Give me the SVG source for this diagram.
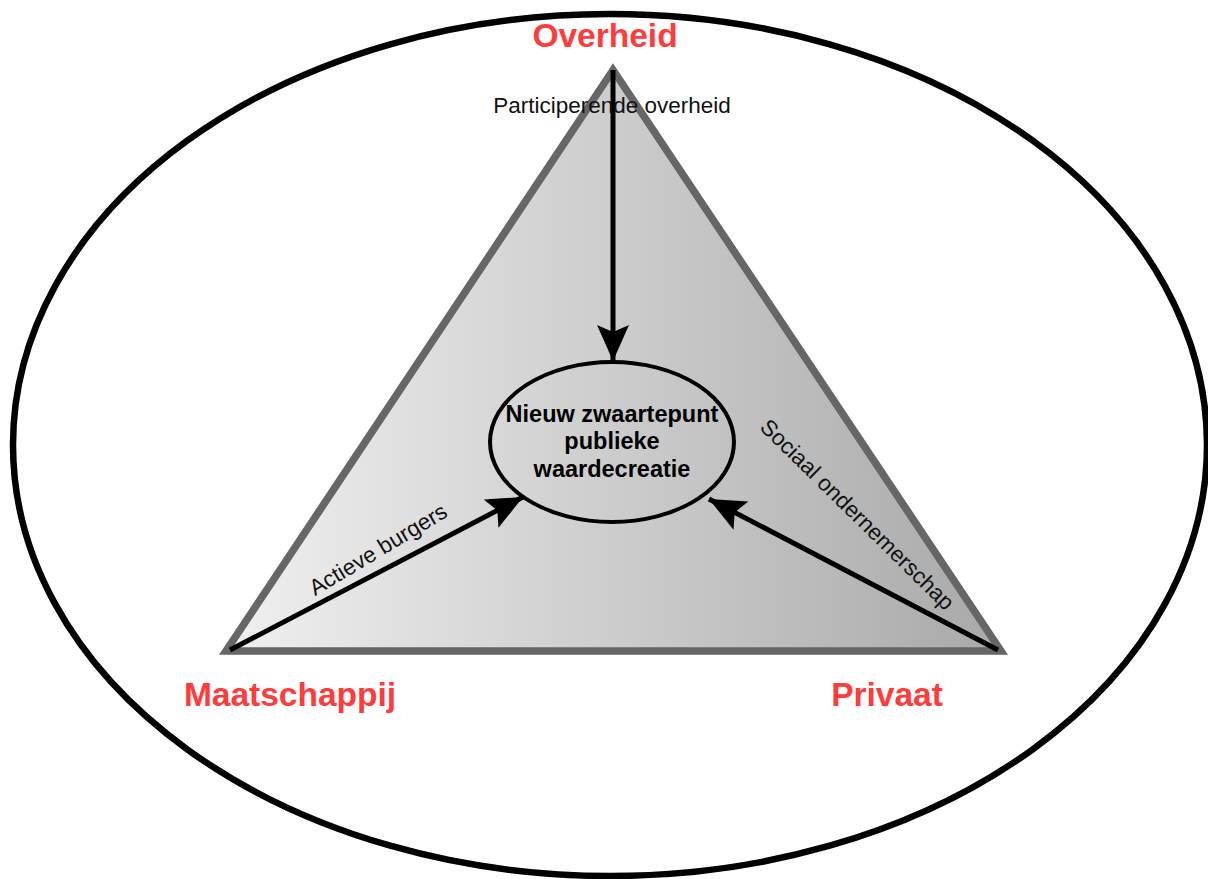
<svg xmlns="http://www.w3.org/2000/svg" width="1208" height="879" viewBox="0 0 1208 879">
<style>
.lbl{font-family:"Liberation Sans",Arial,sans-serif;font-weight:bold;fill:#ff3b3b;font-size:33.5px;text-anchor:middle}
.small{font-family:"Liberation Sans",Arial,sans-serif;fill:#111;font-size:22.5px;text-anchor:middle}
.center{font-family:"Liberation Sans",Arial,sans-serif;font-weight:bold;fill:#000;font-size:23.5px;text-anchor:middle}
.conn{stroke:#000;stroke-width:5;fill:none;marker-end:url(#ah)}
</style>
<defs>
<linearGradient id="g" x1="0" y1="0" x2="1" y2="0">
<stop offset="0" stop-color="#f0f0f0"/>
<stop offset="1" stop-color="#a9a9a9"/>
</linearGradient>
<marker id="ah" markerUnits="userSpaceOnUse" markerWidth="38" markerHeight="34" refX="36" refY="16" orient="auto">
<path d="M0,0 L36,16 L0,32 L7,16 Z" fill="#000"/>
</marker>
</defs>
<rect width="1208" height="879" fill="#fff"/>
<g id="outer">
<ellipse cx="610" cy="445" rx="597" ry="431" fill="none" stroke="#000" stroke-width="6.5"/>
</g>
<g id="triangle">
<polygon points="613,70 226,651 1001,651" fill="url(#g)" stroke="#666" stroke-width="7.5" stroke-linejoin="miter"/>
</g>
<g id="center">
<ellipse cx="612" cy="442" rx="122" ry="80" fill="none" stroke="#000" stroke-width="4"/>
<text class="center" x="612" y="422">Nieuw zwaartepunt</text>
<text class="center" x="612" y="449">publieke</text>
<text class="center" x="612" y="477">waardecreatie</text>
</g>
<g id="connectors">
<line class="conn" x1="613" y1="70" x2="613" y2="361"/>
<line class="conn" x1="230" y1="650" x2="523" y2="497"/>
<line class="conn" x1="998" y1="650" x2="709" y2="499"/>
</g>
<g id="overheid">
<text class="lbl" x="605" y="47">Overheid</text>
</g>
<g id="maatschappij">
<text class="lbl" x="290" y="706">Maatschappij</text>
</g>
<g id="privaat">
<text class="lbl" x="887" y="706">Privaat</text>
</g>
<g id="labels">
<text class="small" x="612" y="113">Participerende overheid</text>
<text class="small" transform="translate(382,556) rotate(-31)">Actieve burgers</text>
<text class="small" fill="#333" transform="translate(852,520) rotate(44.5)">Sociaal ondernemerschap</text>
</g>
</svg>
